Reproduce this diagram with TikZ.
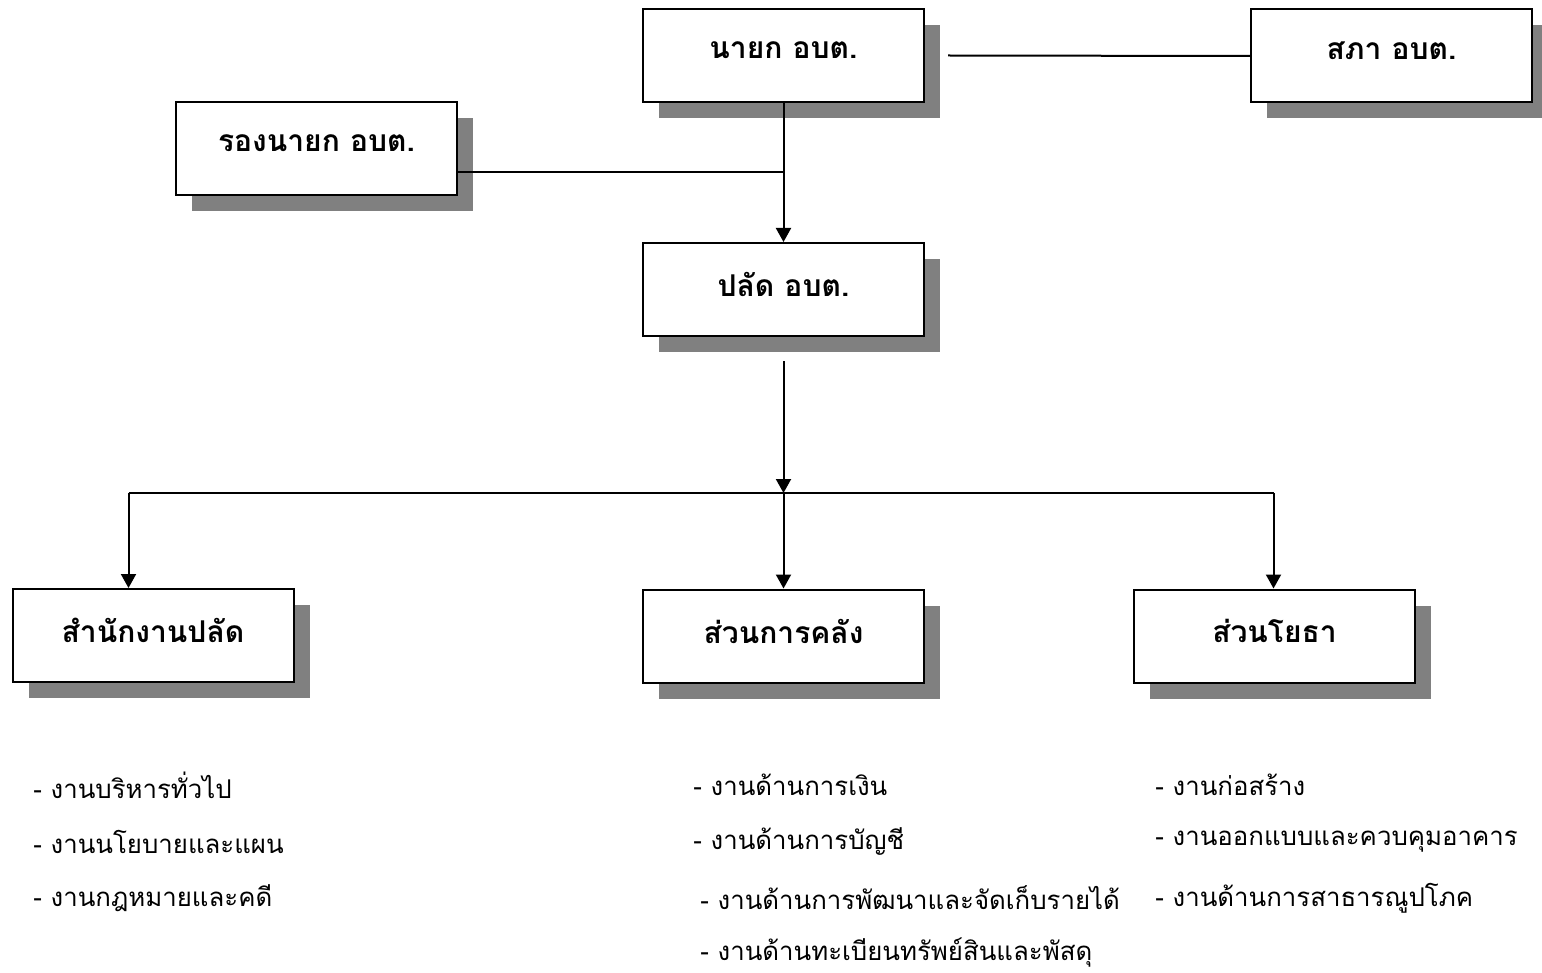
\documentclass[tikz,border=0pt]{standalone}
\usepackage{fontspec}
\newfontfamily\thaifont[Script=Thai]{Loma}
\usetikzlibrary{arrows.meta,shadows}
\definecolor{shadowgray}{HTML}{808080}
\tikzset{
  orgbox/.style={draw=black, line width=1pt, fill=white, minimum width=140.5pt, minimum height=46.5pt,
    inner sep=0pt, text depth=5pt, font=\thaifont\bfseries\fontsize{15}{18}\selectfont,
    general shadow={fill=shadowgray, shadow xshift=8pt, shadow yshift=-8pt}},
  conn/.style={draw=black, line width=1pt},
  arr/.style={conn, -{Triangle[length=7pt,width=7.5pt]}},
  item/.style={anchor=west, inner sep=0pt, font=\thaifont\fontsize{12.9}{15}\selectfont}
}
\begin{document}
\begin{tikzpicture}[x=0.5pt,y=-0.5pt]
\useasboundingbox (0,0) rectangle (1542,973);
% boxes
\node[orgbox] (nayok)  at (783.5,55.5)  {นายก อบต.};
\node[orgbox] (sapha)  at (1391.5,56)   {สภา อบต.};
\node[orgbox] (rong)   at (316.5,148.5) {รองนายก อบต.};
\node[orgbox] (palat)  at (783.5,289.5) {ปลัด อบต.};
\node[orgbox] (samnak) at (153,635.5)   {สำนักงานปลัด};
\node[orgbox] (khlang) at (783.5,636)   {ส่วนการคลัง};
\node[orgbox] (yotha)  at (1274.5,636)  {ส่วนโยธา};
% connectors
\coordinate (nstart) at ([xshift=11.5pt]nayok.east);
\draw[conn] (nstart) -- (sapha.west);
\coordinate (rjoin) at ([yshift=-11.75pt]rong.east);
\draw[conn] (rjoin) -- (rjoin -| nayok.south);
\draw[arr] (nayok.south) -- (palat.north);
\coordinate (pstart) at ([yshift=-12pt]palat.south);
\coordinate (hub) at (783.5,493);
\coordinate (hleft) at (128.5,493);
\coordinate (hright) at (1273.5,493);
\draw[arr] (pstart) -- (hub);
\draw[conn] (hleft) -- (hright);
\draw[arr] (hleft) -- (hleft |- samnak.north);
\draw[arr] (hub) -- (khlang.north);
\draw[arr] (hright) -- (hright |- yotha.north);
% lists
\node[item] (l1) at (33,785) {- งานบริหารทั่วไป};
\node[item] (l2) at (33,842) {- งานนโยบายและแผน};
\node[item] (l3) at (33,898) {- งานกฎหมายและคดี};
\node[item] (m1) at (693,785) {- งานด้านการเงิน};
\node[item] (m2) at (693,842) {- งานด้านการบัญชี};
\node[item] (m3) at (700,898) {- งานด้านการพัฒนาและจัดเก็บรายได้};
\node[item] (m4) at (700,953) {- งานด้านทะเบียนทรัพย์สินและพัสดุ};
\node[item] (r1) at (1155,785) {- งานก่อสร้าง};
\node[item] (r2) at (1155,842) {- งานออกแบบและควบคุมอาคาร};
\node[item] (r3) at (1155,898) {- งานด้านการสาธารณูปโภค};
\end{tikzpicture}
\end{document}
